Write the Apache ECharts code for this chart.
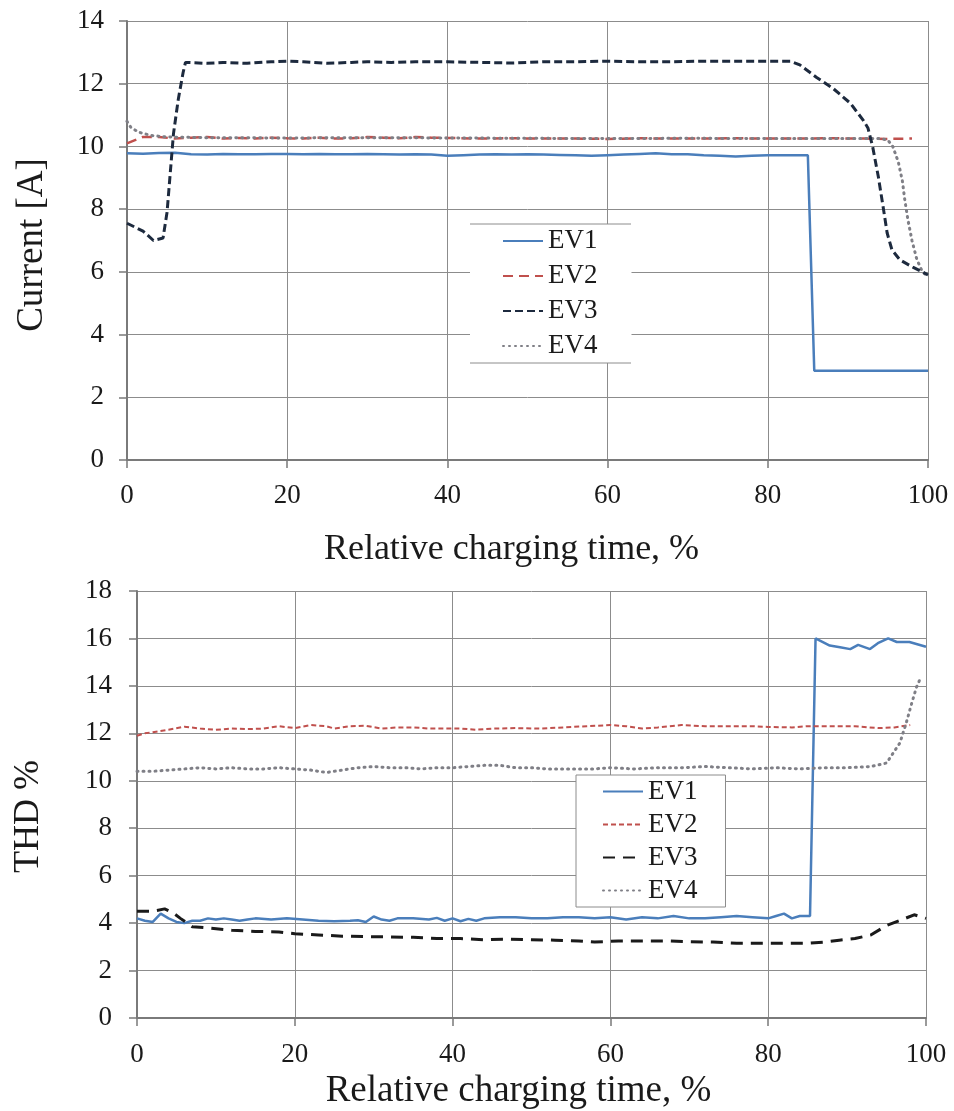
<!DOCTYPE html>
<html>
<head>
<meta charset="utf-8">
<script src="https://cdn.jsdelivr.net/npm/echarts@6/dist/echarts.min.js"></script>
<style>
  html, body { margin: 0; padding: 0; background: #fff; }
  #current { position: absolute; left: 0; top: 0; width: 954px; height: 576px; }
  #thd { position: absolute; left: 0; top: 576px; width: 954px; height: 535px; }
</style>
</head>
<body>
<div id="current"></div>
<div id="thd"></div>
<script>
// ---- Charging current per vehicle [A] vs relative charging time [%] ----
const curEV1x = [0, 2, 4, 6, 8, 10, 12, 14, 16, 18, 20, 22, 24, 26, 28, 30, 32, 34, 36, 38, 40, 42, 44, 46, 48, 50, 52, 54, 56, 58, 60, 62, 64, 66, 68, 70, 72, 74, 76, 78, 80, 82, 84, 85, 85.8, 88, 92, 96, 100];
const curEV1y = [9.78, 9.77, 9.79, 9.8, 9.75, 9.74, 9.76, 9.75, 9.75, 9.76, 9.76, 9.75, 9.76, 9.75, 9.75, 9.76, 9.75, 9.74, 9.75, 9.74, 9.7, 9.72, 9.74, 9.75, 9.74, 9.75, 9.74, 9.73, 9.72, 9.7, 9.72, 9.74, 9.76, 9.78, 9.75, 9.75, 9.72, 9.7, 9.68, 9.7, 9.72, 9.72, 9.72, 9.72, 2.85, 2.85, 2.85, 2.85, 2.85];

const curEV2x = [0, 1, 2, 4, 6, 8, 10, 12, 14, 16, 18, 20, 22, 24, 26, 28, 30, 32, 34, 36, 38, 40, 44, 48, 52, 56, 60, 64, 68, 72, 76, 80, 84, 88, 92, 95, 98];
const curEV2y = [10.1, 10.2, 10.3, 10.3, 10.25, 10.28, 10.3, 10.25, 10.27, 10.25, 10.28, 10.26, 10.25, 10.28, 10.25, 10.26, 10.3, 10.28, 10.26, 10.3, 10.28, 10.27, 10.25, 10.26, 10.25, 10.25, 10.24, 10.26, 10.25, 10.25, 10.26, 10.25, 10.25, 10.26, 10.25, 10.24, 10.25];

const curEV3x = [0, 2, 3.3, 4.5, 5, 5.4, 5.8, 6.4, 7, 7.3, 10, 12, 15, 18, 20, 22, 25, 28, 30, 33, 36, 40, 44, 48, 52, 56, 60, 64, 68, 72, 76, 80, 82.8, 84, 86.1, 88.1, 90.3, 91.9, 92.5, 93.1, 93.8, 94.4, 94.9, 95.5, 96.5, 98.1, 99.3, 100];
const curEV3y = [7.55, 7.3, 7.0, 7.08, 7.9, 9.15, 10.4, 11.5, 12.35, 12.68, 12.65, 12.68, 12.65, 12.7, 12.72, 12.7, 12.65, 12.68, 12.7, 12.68, 12.7, 12.7, 12.68, 12.66, 12.7, 12.7, 12.72, 12.7, 12.7, 12.72, 12.72, 12.72, 12.72, 12.6, 12.2, 11.86, 11.38, 10.84, 10.59, 9.98, 9.03, 8.07, 7.24, 6.7, 6.38, 6.15, 6.0, 5.9];

const curEV4x = [0, 0.5, 1.5, 3, 5, 10, 20, 30, 40, 50, 60, 70, 80, 90, 94, 95, 95.6, 96.3, 96.8, 97.1, 97.5, 98, 98.6, 99.3, 100];
const curEV4y = [10.8, 10.6, 10.45, 10.35, 10.3, 10.28, 10.27, 10.28, 10.27, 10.26, 10.25, 10.26, 10.25, 10.25, 10.25, 10.2, 10.0, 9.5, 8.9, 8.3, 7.65, 7.0, 6.4, 6.0, 5.85];

// ---- Current THD per vehicle [%] vs relative charging time [%] ----
const thdEV1x = [0, 1, 2, 3, 4, 5, 6, 7, 8, 9, 10, 11, 12, 13, 14, 15, 17, 19, 21, 23, 25, 27, 28, 29, 30, 31, 32, 33, 35, 37, 38, 39, 40, 41, 42, 43, 44, 46, 48, 50, 52, 54, 56, 58, 60, 62, 64, 66, 68, 70, 72, 74, 76, 78, 80, 81, 82, 83, 84, 85.3, 86, 87.8, 89.1, 90.4, 91.4, 92.9, 93.9, 95.2, 96.3, 97.9, 100];
const thdEV1y = [4.2, 4.1, 4.05, 4.4, 4.2, 4.05, 4.0, 4.1, 4.1, 4.2, 4.15, 4.2, 4.15, 4.1, 4.15, 4.2, 4.15, 4.2, 4.15, 4.1, 4.08, 4.1, 4.12, 4.05, 4.28, 4.15, 4.1, 4.2, 4.2, 4.15, 4.22, 4.1, 4.2, 4.08, 4.18, 4.1, 4.2, 4.25, 4.25, 4.2, 4.2, 4.25, 4.25, 4.2, 4.25, 4.15, 4.25, 4.2, 4.3, 4.2, 4.2, 4.25, 4.3, 4.25, 4.2, 4.3, 4.4, 4.2, 4.3, 4.3, 16.0, 15.7, 15.63, 15.55, 15.73, 15.55, 15.8, 16.0, 15.85, 15.85, 15.65];

const thdEV2x = [0, 1, 2, 4, 6, 8, 10, 12, 14, 16, 18, 20, 22, 24, 25, 27, 29, 31, 33, 35, 37, 39, 41, 43, 45, 48, 51, 54, 57, 60, 62, 64, 66, 69, 72, 75, 78, 80, 83, 85, 88, 91, 94, 96, 98];
const thdEV2y = [11.9, 12.0, 12.05, 12.15, 12.28, 12.2, 12.15, 12.2, 12.18, 12.2, 12.3, 12.22, 12.35, 12.3, 12.2, 12.3, 12.32, 12.2, 12.25, 12.25, 12.2, 12.2, 12.2, 12.15, 12.2, 12.22, 12.2, 12.25, 12.3, 12.35, 12.3, 12.2, 12.25, 12.35, 12.3, 12.3, 12.3, 12.27, 12.25, 12.3, 12.3, 12.3, 12.22, 12.25, 12.35];

const thdEV3x = [0, 2, 3.5, 4.5, 5.5, 7, 9, 12, 15, 18, 20, 23, 26, 29, 32, 35, 38, 41, 44, 47, 50, 53, 56, 58, 61, 64, 67, 70, 73, 76, 79, 82, 85, 87, 89, 91, 93, 95, 97, 98.5, 100];
const thdEV3y = [4.5, 4.5, 4.6, 4.45, 4.2, 3.85, 3.8, 3.7, 3.65, 3.63, 3.55, 3.5, 3.45, 3.43, 3.42, 3.4, 3.35, 3.35, 3.3, 3.32, 3.3, 3.28, 3.25, 3.2, 3.25, 3.25, 3.25, 3.22, 3.2, 3.15, 3.15, 3.15, 3.15, 3.2, 3.28, 3.35, 3.5, 3.9, 4.15, 4.35, 4.2];

const thdEV4x = [0, 2, 4, 6, 8, 10, 12, 14, 16, 18, 20, 22, 24, 26, 28, 30, 32, 34, 36, 38, 40, 42, 44, 46, 48, 50, 52, 55, 58, 60, 63, 66, 69, 72, 75, 78, 81, 84, 87, 90, 93, 95, 96.7, 97.6, 98.2, 98.8, 99.4];
const thdEV4y = [10.4, 10.4, 10.45, 10.5, 10.55, 10.5, 10.55, 10.5, 10.5, 10.55, 10.5, 10.45, 10.35, 10.45, 10.55, 10.6, 10.55, 10.55, 10.5, 10.55, 10.55, 10.6, 10.65, 10.65, 10.55, 10.55, 10.5, 10.5, 10.5, 10.55, 10.5, 10.55, 10.55, 10.6, 10.55, 10.5, 10.55, 10.5, 10.55, 10.55, 10.6, 10.75, 11.6, 12.56, 13.28, 13.95, 14.4];

const xTicks = { min: 0, max: 100, interval: 20 };
const seriesNames = ['EV1', 'EV2', 'EV3', 'EV4'];

const FONT = '"Liberation Serif", "DejaVu Serif", serif';
const INK = '#1a1a1a';
const GRID_GREY = '#8c8c8c';
const AXIS_GREY = '#7a7a7a';

function pairs(xs, ys) {
  return xs.map((x, i) => [x, ys[i]]);
}

// Axis pair for one panel. Title "shift" values are extra end padding that nudges
// each axis title off the exact middle of its axis.
function axes(p) {
  const common = {
    type: 'value',
    axisLine: { show: true, lineStyle: { color: AXIS_GREY, width: 2 } },
    axisTick: { show: true, length: 8, inside: false, lineStyle: { color: AXIS_GREY, width: 1.5 } },
    splitLine: { show: true, lineStyle: { color: GRID_GREY, width: 1 } },
    axisLabel: { fontFamily: FONT, fontSize: 27, color: INK },
    nameLocation: 'middle'
  };
  return {
    xAxis: Object.assign({}, common, {
      min: xTicks.min, max: xTicks.max, interval: xTicks.interval,
      name: 'Relative charging time, %', nameGap: p.xGap,
      nameTextStyle: { fontFamily: FONT, fontSize: p.xTitleSize, color: INK, padding: [0, p.xShift, 0, 0] },
      axisLabel: Object.assign({}, common.axisLabel, { margin: p.xLabelMargin })
    }),
    yAxis: Object.assign({}, common, {
      min: 0, max: p.yMax, interval: 2,
      name: p.yName, nameGap: p.yGap,
      nameTextStyle: { fontFamily: FONT, fontSize: p.yTitleSize, color: INK, padding: [0, p.yShift, 0, 0] },
      axisLabel: Object.assign({}, common.axisLabel, { margin: p.yLabelMargin })
    })
  };
}

function line(name, data, color, width, dash, cap) {
  return {
    name: name, type: 'line', data: data,
    symbol: 'none', smooth: false, showSymbol: false,
    lineStyle: { color: color, width: width, type: dash, cap: cap || 'butt' },
    itemStyle: { color: color },
    emphasis: { disabled: true }
  };
}

const legendText = { fontFamily: FONT, fontSize: 27, color: INK, lineHeight: 27 };
// legend keys show only the line stroke, no marker in the middle
const legendKeyMarker = { opacity: 0 };

// Top panel: charging current
const chartA = echarts.init(document.getElementById('current'), null, { renderer: 'canvas' });
const axA = axes({
  yMax: 14, yName: 'Current [A]', yGap: 76, yTitleSize: 37, yShift: 9, yLabelMargin: 23,
  xGap: 72, xTitleSize: 36, xShift: 32, xLabelMargin: 22
});
chartA.setOption({
  animation: false,
  backgroundColor: '#ffffff',
  grid: { left: 127, top: 21, width: 801, height: 439, containLabel: false, outerBoundsMode: 'none' },
  xAxis: axA.xAxis,
  yAxis: axA.yAxis,
  legend: {
    orient: 'vertical', left: 470, top: 224,
    padding: [3.5, 34, 3.5, 32],
    itemWidth: 40, itemHeight: 14, itemGap: 8,
    backgroundColor: '#ffffff', borderWidth: 0,
    itemStyle: legendKeyMarker,
    textStyle: legendText,
    data: seriesNames
  },
  graphic: [
    { type: 'line', z: 100, shape: { x1: 470, y1: 224, x2: 631, y2: 224 }, style: { stroke: GRID_GREY, lineWidth: 1 } },
    { type: 'line', z: 100, shape: { x1: 470, y1: 363, x2: 631, y2: 363 }, style: { stroke: GRID_GREY, lineWidth: 1 } }
  ],
  series: [
    line('EV1', pairs(curEV1x, curEV1y), '#4a7ebb', 2.5, 'solid'),
    line('EV2', pairs(curEV2x, curEV2y), '#c0504d', 2.5, [10, 6]),
    line('EV4', pairs(curEV4x, curEV4y), '#7f7f86', 3, [1, 5], 'round'),
    line('EV3', pairs(curEV3x, curEV3y), '#1d2a3e', 3, [8, 4])
  ]
});

// Bottom panel: total harmonic distortion (its box starts 576px down the page)
const chartB = echarts.init(document.getElementById('thd'), null, { renderer: 'canvas' });
const axB = axes({
  yMax: 18, yName: 'THD %', yGap: 90, yTitleSize: 36, yShift: 24, yLabelMargin: 25,
  xGap: 34, xTitleSize: 37, xShift: 26, xLabelMargin: 23
});
chartB.setOption({
  animation: false,
  backgroundColor: '#ffffff',
  grid: { left: 137, top: 15, width: 789, height: 427, containLabel: false, outerBoundsMode: 'none' },
  xAxis: axB.xAxis,
  yAxis: axB.yAxis,
  legend: {
    orient: 'vertical', left: 576, top: 199,
    padding: [3, 28, 3, 26],
    itemWidth: 40, itemHeight: 14, itemGap: 6,
    backgroundColor: '#ffffff', borderColor: GRID_GREY, borderWidth: 1,
    itemStyle: legendKeyMarker,
    textStyle: legendText,
    data: seriesNames
  },
  series: [
    line('EV1', pairs(thdEV1x, thdEV1y), '#4a7ebb', 2.5, 'solid'),
    line('EV2', pairs(thdEV2x, thdEV2y), '#c0504d', 2, [5, 3]),
    line('EV3', pairs(thdEV3x, thdEV3y), '#1a1a1a', 3, [12, 8]),
    line('EV4', pairs(thdEV4x, thdEV4y), '#7f7f86', 3, [1, 5], 'round')
  ]
});
</script>
</body>
</html>
